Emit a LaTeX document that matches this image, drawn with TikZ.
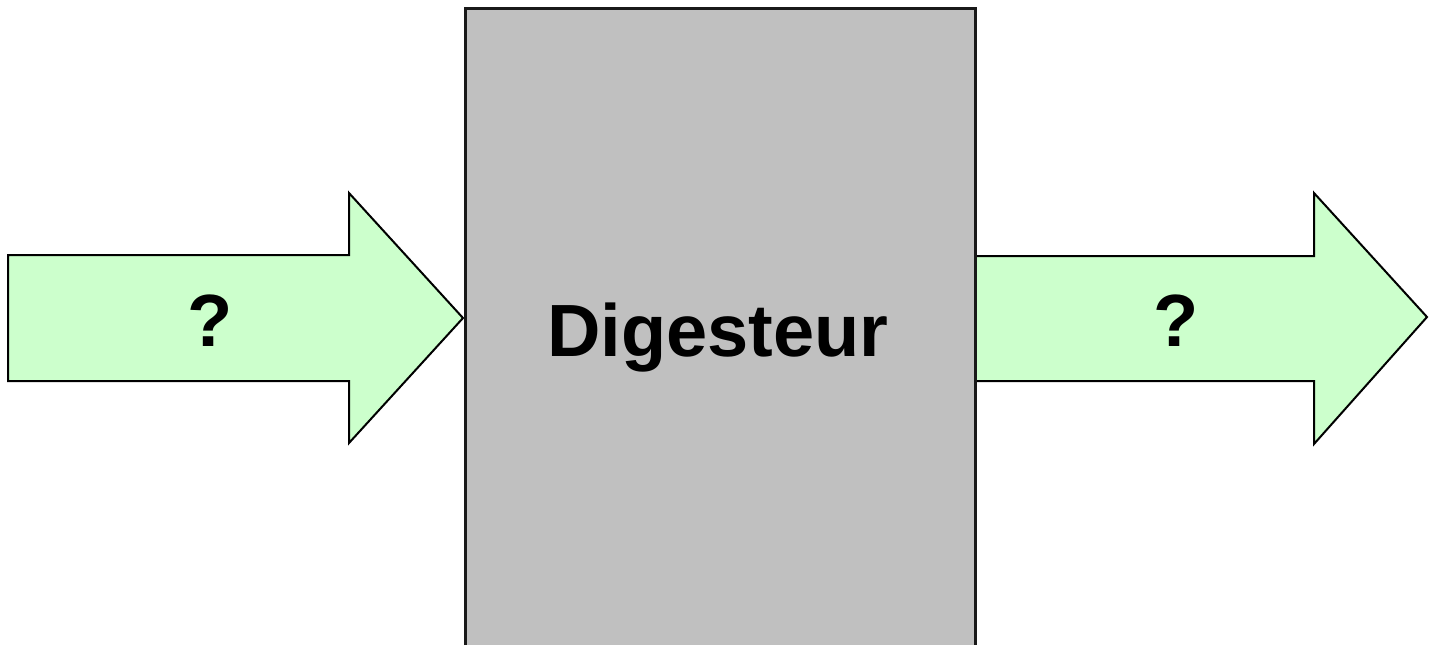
\documentclass[tikz,border=0pt]{standalone}
\usepackage{fontspec}
\setmainfont{Liberation Sans}
\definecolor{arrowgreen}{HTML}{CCFFCC}
\definecolor{boxgray}{HTML}{C0C0C0}
\begin{document}
\begin{tikzpicture}[x=0.5pt,y=-0.5pt,
  bigarrow/.style={fill=arrowgreen,draw=black,line width=1pt,line join=miter},
  digbox/.style={fill=boxgray},
  digedge/.style={draw=black!90,line width=1.5pt},
  qlabel/.style={font=\fontsize{37}{44}\selectfont\bfseries,anchor=base,inner sep=0pt},
  boxlabel/.style={font=\fontsize{37}{44}\selectfont\bfseries,anchor=base,inner sep=0pt}]
\useasboundingbox (0,0) rectangle (1429,645);
% left arrow
\draw[bigarrow] (8,255) -- (349,255) -- (349,193) -- (463,318) -- (349,443) -- (349,381) -- (8,381) -- cycle;
% right arrow
\draw[bigarrow] (975,256) -- (1314,256) -- (1314,193) -- (1427,317) -- (1314,444) -- (1314,381) -- (975,381) -- cycle;
% digester box
\fill[digbox] (465,8) rectangle (975,645);
\draw[digedge] (465,645) -- (465,8) -- (975,8) -- (975,645);
\node[boxlabel] (dig) at (718,356) {Digesteur};
\node[qlabel] (qin) at (210,346) {?};
\node[qlabel] (qout) at (1176,346) {?};
\end{tikzpicture}
\end{document}
